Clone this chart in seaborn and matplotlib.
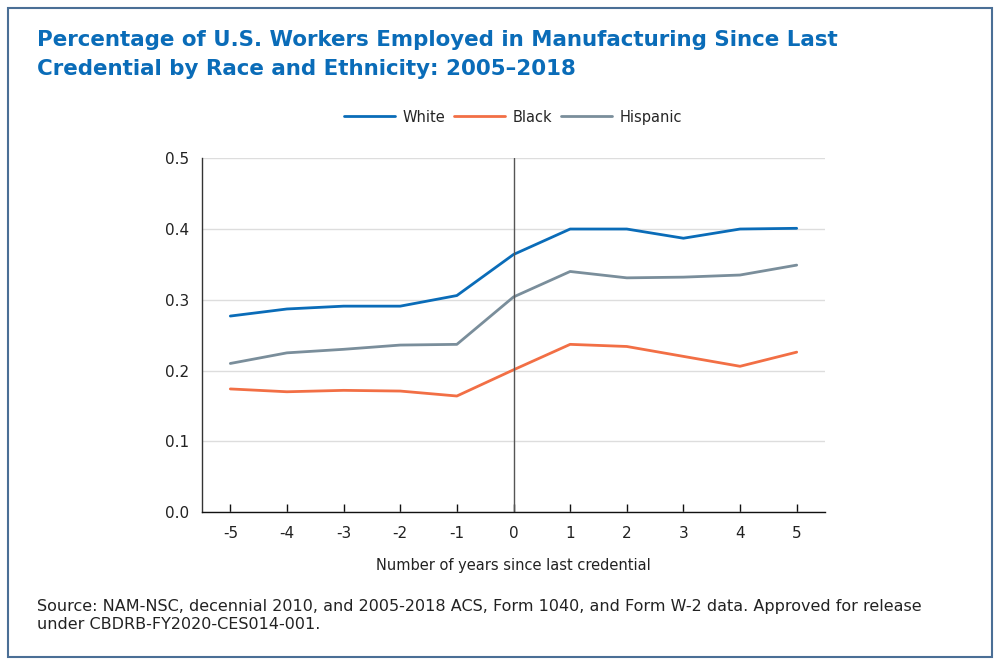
import matplotlib
matplotlib.use("Agg")
import matplotlib.pyplot as plt
import seaborn as sns
import pandas as pd
from matplotlib.patches import Rectangle

years = [-5, -4, -3, -2, -1, 0, 1, 2, 3, 4, 5]
white = [0.277, 0.287, 0.291, 0.291, 0.306, 0.364, 0.400, 0.400, 0.387, 0.400, 0.401]
black = [0.174, 0.170, 0.172, 0.171, 0.164, 0.201, 0.237, 0.234, 0.220, 0.206, 0.226]
hispanic = [0.210, 0.225, 0.230, 0.236, 0.237, 0.304, 0.340, 0.331, 0.332, 0.335, 0.349]
series_names = ["White", "Black", "Hispanic"]
colors = ["#0a6cb8", "#f26f45", "#7a8e9b"]

df = pd.DataFrame({"year": years * 3,
                   "value": white + black + hispanic,
                   "group": [n for n in series_names for _ in years]})

sns.set_theme(style="white")
plt.rcParams['font.family'] = ['DejaVu Sans']

fig = plt.figure(figsize=(10, 6.65), dpi=100)
ax = fig.add_axes([0.202, 0.230, 0.623, 0.532])

sns.lineplot(data=df, x="year", y="value", hue="group", palette=colors,
             hue_order=series_names, linewidth=2, ax=ax, legend=False)

ax.set_xlim(-5.5, 5.5)
ax.set_ylim(0, 0.5)
ax.set_xticks(years)
ax.set_xticklabels([str(y) for y in years])
ax.set_yticks([0, 0.1, 0.2, 0.3, 0.4, 0.5])
ax.set_yticklabels(["0.0", "0.1", "0.2", "0.3", "0.4", "0.5"])
ax.grid(axis="y", color="#dddddd", linewidth=1)
ax.set_axisbelow(True)
ax.axvline(0, color="#555555", linewidth=1)
for s in ["top", "right"]:
    ax.spines[s].set_visible(False)
ax.spines["left"].set_color("#333333")
ax.spines["left"].set_linewidth(1)
ax.spines["bottom"].set_color("#111111")
ax.spines["bottom"].set_linewidth(1)
ax.tick_params(axis="x", direction="in", length=6, width=1, color="#111111",
               bottom=True, labelsize=11, pad=10, labelcolor="#222222")
ax.tick_params(axis="y", length=0, labelsize=11, pad=9, labelcolor="#222222")
ax.set_xlabel("Number of years since last credential", fontsize=10.5, color="#222222", labelpad=12)
ax.set_ylabel("")

handles = [plt.Line2D([0], [0], color=c, lw=2) for c in colors]
fig.legend(handles, series_names, loc="center", bbox_to_anchor=(0.513, 0.824),
           ncol=3, frameon=False, fontsize=10.5, handlelength=3.5,
           columnspacing=0.6, handletextpad=0.5)

fig.text(0.037, 0.955, "Percentage of U.S. Workers Employed in Manufacturing Since Last\nCredential by Race and Ethnicity: 2005\u20132018",
         fontsize=15.4, fontweight="bold", color="#0a6cb8", va="top", ha="left", linespacing=1.55)
fig.text(0.037, 0.049, "Source: NAM-NSC, decennial 2010, and 2005-2018 ACS, Form 1040, and Form W-2 data. Approved for release\nunder CBDRB-FY2020-CES014-001.",
         fontsize=11.5, color="#222222", va="bottom", ha="left", linespacing=1.3)

fig.patches.append(Rectangle((0.008, 0.012), 0.984, 0.976, transform=fig.transFigure,
                             fill=False, edgecolor="#4b6f96", linewidth=1.5))

fig.savefig("out.png", dpi=100)
